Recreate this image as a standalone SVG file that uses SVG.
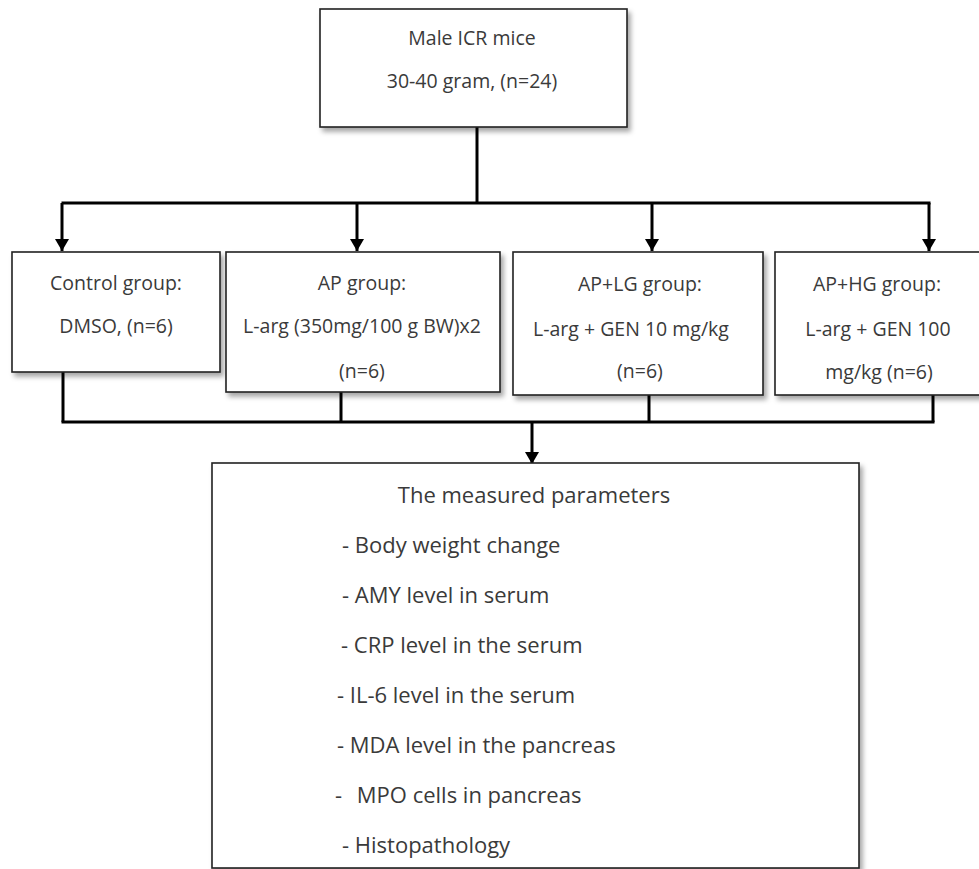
<svg xmlns="http://www.w3.org/2000/svg" width="979" height="869" viewBox="0 0 979 869">
<defs>
<filter id="sh" x="-10%" y="-10%" width="130%" height="130%">
<feDropShadow dx="3" dy="4" stdDeviation="2.5" flood-color="#000" flood-opacity="0.35"/>
</filter>
<marker id="ah" viewBox="0 0 12 14" refX="12" refY="7" markerWidth="12" markerHeight="14" markerUnits="userSpaceOnUse" orient="auto">
<path d="M0,0 L12,7 L0,14 Z" fill="#000"/>
</marker>
</defs>
<style>
.box{fill:#fff;stroke:#222;stroke-width:1.6;filter:url(#sh)}
.t{font-family:"Open Sans","Liberation Sans",sans-serif;font-size:19.5px;fill:#3a3a3a;text-anchor:middle}
.l{font-family:"Open Sans","Liberation Sans",sans-serif;font-size:22px;fill:#3a3a3a}
.c{fill:none;stroke:#000;stroke-width:3}
.a{fill:none;stroke:#000;stroke-width:3;marker-end:url(#ah)}
</style>
<rect width="979" height="869" fill="#fff"/>
<g id="connectors">
<path class="c" d="M477,127 V203"/>
<path class="c" d="M61.5,203 H930.5"/>
<path class="a" d="M62,203 V251"/>
<path class="a" d="M357,203 V251"/>
<path class="a" d="M652,203 V251"/>
<path class="a" d="M929,203 V251"/>
<path class="c" d="M63,372 V422"/>
<path class="c" d="M341,392 V422"/>
<path class="c" d="M649,395 V422"/>
<path class="c" d="M933,395 V422"/>
<path class="c" d="M61.5,422 H934.5"/>
<path class="a" d="M532,422 V464"/>
</g>
<g id="start">
<rect class="box" x="320" y="9" width="307" height="118"/>
<text class="t" x="472" y="45">Male ICR mice</text>
<text class="t" x="472" y="88">30-40 gram, (n=24)</text>
</g>
<g id="control">
<rect class="box" x="12" y="252" width="208" height="120"/>
<text class="t" x="116" y="290">Control group:</text>
<text class="t" x="116" y="333">DMSO, (n=6)</text>
</g>
<g id="ap">
<rect class="box" x="226" y="252" width="274" height="140"/>
<text class="t" x="362" y="290">AP group:</text>
<text class="t" x="362" y="333">L-arg (350mg/100 g BW)x2</text>
<text class="t" x="362" y="378">(n=6)</text>
</g>
<g id="aplg">
<rect class="box" x="513" y="252" width="250" height="143"/>
<text class="t" x="640" y="291">AP+LG group:</text>
<text class="t" x="631" y="336">L-arg + GEN 10 mg/kg</text>
<text class="t" x="640" y="378">(n=6)</text>
</g>
<g id="aphg">
<rect class="box" x="775" y="252" width="215" height="143"/>
<text class="t" x="877" y="291">AP+HG group:</text>
<text class="t" x="878" y="336">L-arg + GEN 100</text>
<text class="t" x="879" y="379">mg/kg (n=6)</text>
</g>
<g id="params">
<rect class="box" x="212" y="463" width="647" height="405"/>
<text class="l" x="534" y="503" text-anchor="middle">The measured parameters</text>
<text class="l" x="342" y="553">- Body weight change</text>
<text class="l" x="342" y="603">- AMY level in serum</text>
<text class="l" x="341" y="653">- CRP level in the serum</text>
<text class="l" x="337" y="703">- IL-6 level in the serum</text>
<text class="l" x="337" y="753">- MDA level in the pancreas</text>
<text class="l" x="335" y="803">- <tspan dx="9">MPO cells in pancreas</tspan></text>
<text class="l" x="342" y="853">- Histopathology</text>
</g>
</svg>
